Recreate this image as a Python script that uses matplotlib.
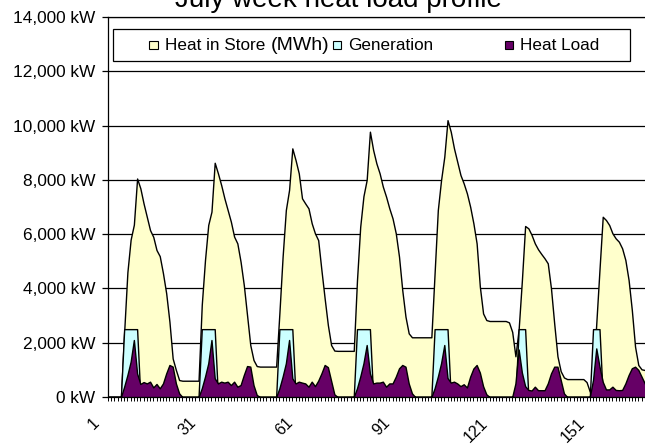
import matplotlib
matplotlib.use('Agg')
import matplotlib.pyplot as plt
import matplotlib.transforms as mtransforms
from matplotlib.patches import Rectangle
import numpy as np

plt.rcParams['font.family'] = ['Liberation Sans', 'DejaVu Sans']

hours = list(range(1, 169))

heat_in_store = [
    0, 0, 0, 0, 0,
    2400, 4600, 5800, 6350, 8050,
    7690, 7130, 6640, 6150, 5900, 5415, 5190, 4560, 3820, 2775,
    1420, 995, 625, 600, 600, 600, 600, 600, 600,
    3400, 5050, 6340, 6830, 8630,
    8240, 7810, 7320, 6890, 6460, 5910, 5660, 4985, 4126, 3020,
    1915, 1363, 1140, 1120, 1120, 1120, 1120, 1120, 1120,
    3080, 5170, 6890, 7630, 9160,
    8730, 8240, 7320, 7130, 6950, 6400, 6030, 5780, 4680, 3635,
    2650, 1915, 1710, 1700, 1700, 1700, 1700, 1700, 1700,
    4300, 6275, 7400, 8000, 9775,
    9100, 8608, 8240, 7750, 7380, 6950, 6580, 6030, 5170, 3940,
    2960, 2345, 2200, 2200, 2200, 2200, 2200, 2200, 2200,
    4555, 6890, 7990, 8850, 10200,
    9775, 9160, 8670, 8180, 7870, 7500, 7010, 6400, 5660, 4065,
    3080, 2835, 2800, 2800, 2800, 2800, 2800, 2800, 2750,
    2400, 1500, 2500, 4300, 6300,
    6214, 5970, 5660, 5440, 5270, 5110, 4925, 4000, 2700, 1500,
    950, 720, 660, 660, 660, 660, 660, 660, 550, 200,
    700, 2700, 4700, 6640,
    6520, 6336, 6030, 5845, 5720, 5477, 5047, 4310, 3205, 1854,
    1180, 1020, 995, 990,
]

generation = [
    0, 0, 0, 0, 0,
    2500, 2500, 2500, 2500, 2500,
    0, 0, 0, 0, 0, 0, 0, 0, 0, 0,
    0, 0, 0, 0, 0, 0, 0, 0, 0,
    2500, 2500, 2500, 2500, 2500,
    0, 0, 0, 0, 0, 0, 0, 0, 0, 0,
    0, 0, 0, 0, 0, 0, 0, 0, 0,
    2500, 2500, 2500, 2500, 2500,
    0, 0, 0, 0, 0, 0, 0, 0, 0, 0,
    0, 0, 0, 0, 0, 0, 0, 0, 0,
    2500, 2500, 2500, 2500, 2500,
    0, 0, 0, 0, 0, 0, 0, 0, 0, 0,
    0, 0, 0, 0, 0, 0, 0, 0, 0,
    2500, 2500, 2500, 2500, 2500,
    0, 0, 0, 0, 0, 0, 0, 0, 0, 0,
    0, 0, 0, 0, 0, 0, 0, 0, 0,
    0, 0, 2500, 2500, 2500,
    0, 0, 0, 0, 0, 0, 0, 0, 0, 0,
    0, 0, 0, 0, 0, 0, 0, 0, 0, 0,
    2500, 2500, 2500, 0,
    0, 0, 0, 0, 0, 0, 0, 0, 0, 0,
    0, 0, 0, 0,
]

heat_load = [
    0, 0, 0, 0, 0,
    380, 810, 1300, 2100, 870,
    480, 550, 500, 565, 355, 480, 320, 500, 870, 1180,
    1120, 500, 135, 0, 0, 0, 0, 0, 0,
    320, 750, 1240, 2100, 690,
    500, 565, 530, 565, 440, 565, 380, 440, 810, 1140,
    1120, 440, 75, 0, 0, 0, 0, 0, 0,
    320, 750, 1240, 2100, 690,
    500, 565, 530, 500, 380, 565, 400, 600, 870, 1180,
    1100, 600, 100, 0, 0, 0, 0, 0, 0,
    320, 750, 1240, 1915, 870,
    500, 530, 530, 565, 380, 500, 500, 750, 1056, 1180,
    1117, 500, 135, 0, 0, 0, 0, 0, 0,
    320, 750, 1240, 1915, 700,
    530, 565, 500, 400, 470, 350, 750, 1050, 1180, 900,
    400, 100, 0, 0, 0, 0, 0, 0, 0,
    0, 500, 1750, 900, 400,
    260, 240, 380, 250, 250, 250, 500, 870, 1117, 1117,
    630, 135, 0, 0, 0, 0, 0, 0, 0, 0,
    630, 1790, 1120, 560,
    280, 280, 380, 260, 250, 260, 500, 810, 1060, 1117,
    1000, 750, 500, 250,
]

x_label_hours = [1, 31, 61, 91, 121, 151]
y_ticks = [0, 2000, 4000, 6000, 8000, 10000, 12000, 14000]
y_tick_labels = [f"{v:,} kW" for v in y_ticks]

W, H = 645, 445
fig = plt.figure(figsize=(W / 100, H / 100), dpi=100)
fig.patch.set_facecolor('white')
ax = fig.add_axes([108 / W, 48 / H, 540 / W, 380 / H])

ax.fill_between(hours, heat_in_store, 0, facecolor='#FFFFCC',
                edgecolor='black', linewidth=1.0, zorder=2)
ax.fill_between(hours, generation, 0, facecolor='#CCFFFF',
                edgecolor='black', linewidth=1.0, zorder=3)
ax.fill_between(hours, heat_load, 0, facecolor='#660066',
                edgecolor='black', linewidth=1.0, zorder=4)

ax.set_xlim(1, 168)
ax.set_ylim(0, 14000)

ax.set_yticks(y_ticks)
ax.set_yticklabels(y_tick_labels, fontsize=12.4)
ax.yaxis.grid(True, color='black', linewidth=0.9)
ax.set_axisbelow(True)

ax.spines['right'].set_visible(False)
ax.spines['top'].set_visible(True)
for s in ('left', 'bottom', 'top'):
    ax.spines[s].set_linewidth(0.9)
    ax.spines[s].set_color('black')

ax.tick_params(axis='y', length=4.3, width=0.9, pad=5, colors='black')

ax.set_xticks(x_label_hours)
ax.set_xticks(hours, minor=True)
ax.set_xticklabels([str(h) for h in x_label_hours], fontsize=11.5,
                   rotation=45, rotation_mode='anchor', ha='right', va='center')
ax.tick_params(axis='x', which='both', length=3, width=0.7, direction='out')
ax.tick_params(axis='x', which='major', pad=14)

offset = mtransforms.ScaledTranslation(-11 / 100, 0, fig.dpi_scale_trans)
for lab in ax.get_xticklabels():
    lab.set_transform(lab.get_transform() + offset)

# Title (partly cut off at top, as in the reference)
fig.text(338 / W, 1 - 7 / H, 'July week heat load profile', ha='center',
         va='baseline', fontsize=20)

# Legend box drawn manually
def fx(px):
    return px / W

def fy(py):
    return 1 - py / H

fig.add_artist(Rectangle((fx(113), fy(61)), (630 - 113) / W, 32 / H,
                         transform=fig.transFigure, facecolor='white',
                         edgecolor='black', linewidth=0.9, zorder=10))

items = [
    ('#FFFFCC', 153.5, 'Heat in Store ', 165),
    ('#CCFFFF', 337, 'Generation', 348),
    ('#660066', 509, 'Heat Load', 520),
]
sq = 8.5
for color, cx, label, tx in items:
    fig.add_artist(Rectangle((fx(cx - sq / 2), fy(45 + sq / 2)), sq / W, sq / H,
                             transform=fig.transFigure, facecolor=color,
                             edgecolor='black', linewidth=0.8, zorder=11))
    fig.text(fx(tx), fy(45.5), label, ha='left', va='center', fontsize=12.3,
             zorder=12)
fig.text(fx(271), fy(45.5), '(MWh)', ha='left', va='center', fontsize=14,
         zorder=12)

fig.savefig('out.png', dpi=100, facecolor='white')
